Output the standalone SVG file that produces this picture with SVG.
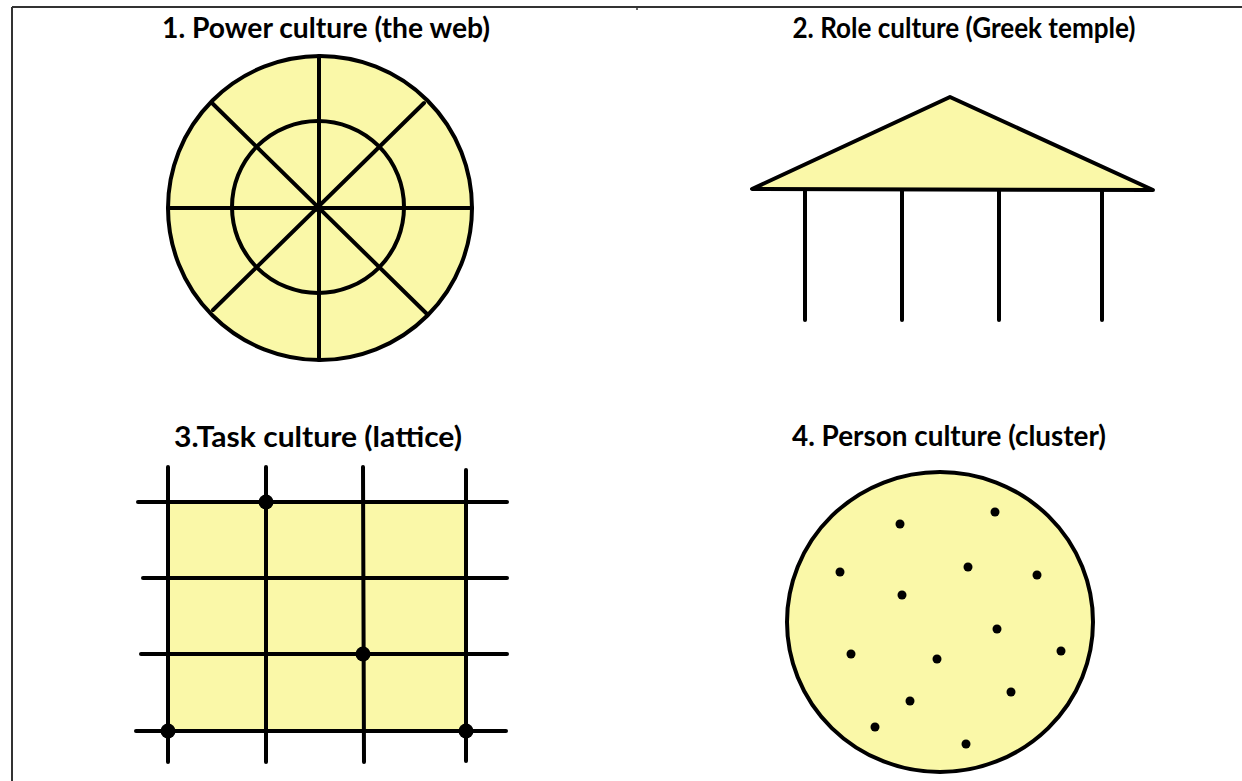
<svg xmlns="http://www.w3.org/2000/svg" width="1242" height="781" viewBox="0 0 1242 781">
<style>
.title{font-family:Lato,"Open Sans","Liberation Sans",sans-serif;font-weight:bold;font-size:28px;fill:#000;text-anchor:middle}
.ln{stroke:#000;stroke-width:4;fill:none;stroke-linecap:round}
.fill{fill:#faf8a8}
.dot{fill:#000}
</style>
<rect width="1242" height="781" fill="#fff"/>
<g id="frame">
<line x1="12" y1="7" x2="1242" y2="7" stroke="#333" stroke-width="2"/>
<line x1="12" y1="7" x2="12" y2="781" stroke="#333" stroke-width="2"/>
<line x1="637" y1="7" x2="637" y2="10" stroke="#333" stroke-width="1.5"/>
</g>
<g id="power">
<text class="title" x="326" y="38" textLength="328" lengthAdjust="spacingAndGlyphs">1. Power culture (the web)</text>
<circle cx="320" cy="208" r="152" class="fill" stroke="#000" stroke-width="4"/>
<circle cx="318" cy="207" r="86" class="ln"/>
<line class="ln" x1="319" y1="56" x2="319" y2="360"/>
<line class="ln" x1="168" y1="208" x2="472" y2="208"/>
<line class="ln" x1="212" y1="103" x2="427" y2="314"/>
<line class="ln" x1="424" y1="103" x2="213" y2="310"/>
<circle cx="318" cy="208" r="4" class="dot"/>
</g>
<g id="role">
<text class="title" x="964" y="38" textLength="343" lengthAdjust="spacingAndGlyphs">2. Role culture (Greek temple)</text>
<polygon points="950,97 752,189 1153,190" class="fill" stroke="#000" stroke-width="4" stroke-linejoin="round"/>
<line class="ln" x1="805" y1="190" x2="805" y2="320"/>
<line class="ln" x1="902" y1="190" x2="902" y2="320"/>
<line class="ln" x1="999" y1="190" x2="999" y2="320"/>
<line class="ln" x1="1102" y1="190" x2="1102" y2="320"/>
</g>
<g id="task">
<text class="title" x="318" y="447" textLength="288" lengthAdjust="spacingAndGlyphs">3.Task culture (lattice)</text>
<rect x="168" y="502" width="298" height="229" class="fill"/>
<line class="ln" x1="168" y1="467" x2="168" y2="762"/>
<line class="ln" x1="266" y1="467" x2="266" y2="762"/>
<line class="ln" x1="363" y1="467" x2="364" y2="762"/>
<line class="ln" x1="466" y1="470" x2="466" y2="761"/>
<line class="ln" x1="138" y1="502" x2="507" y2="502"/>
<line class="ln" x1="143" y1="578" x2="507" y2="578"/>
<line class="ln" x1="141" y1="654" x2="507" y2="654"/>
<line class="ln" x1="136" y1="731" x2="506" y2="731"/>
<circle cx="266" cy="502" r="7.5" class="dot"/>
<circle cx="363" cy="654" r="7.5" class="dot"/>
<circle cx="168" cy="731" r="7.5" class="dot"/>
<circle cx="466" cy="731" r="7.5" class="dot"/>
</g>
<g id="person">
<text class="title" x="949" y="446" textLength="314" lengthAdjust="spacingAndGlyphs">4. Person culture (cluster)</text>
<ellipse cx="940" cy="622" rx="153" ry="150" class="fill" stroke="#000" stroke-width="4"/>
<g class="dot">
<circle cx="900" cy="524" r="4.5"/>
<circle cx="995" cy="512" r="4.5"/>
<circle cx="840" cy="572" r="4.5"/>
<circle cx="968" cy="567" r="4.5"/>
<circle cx="1037" cy="575" r="4.5"/>
<circle cx="902" cy="595" r="4.5"/>
<circle cx="997" cy="629" r="4.5"/>
<circle cx="851" cy="654" r="4.5"/>
<circle cx="937" cy="659" r="4.5"/>
<circle cx="1061" cy="651" r="4.5"/>
<circle cx="1011" cy="692" r="4.5"/>
<circle cx="910" cy="701" r="4.5"/>
<circle cx="875" cy="727" r="4.5"/>
<circle cx="966" cy="744" r="4.5"/>
</g>
</g>
</svg>
